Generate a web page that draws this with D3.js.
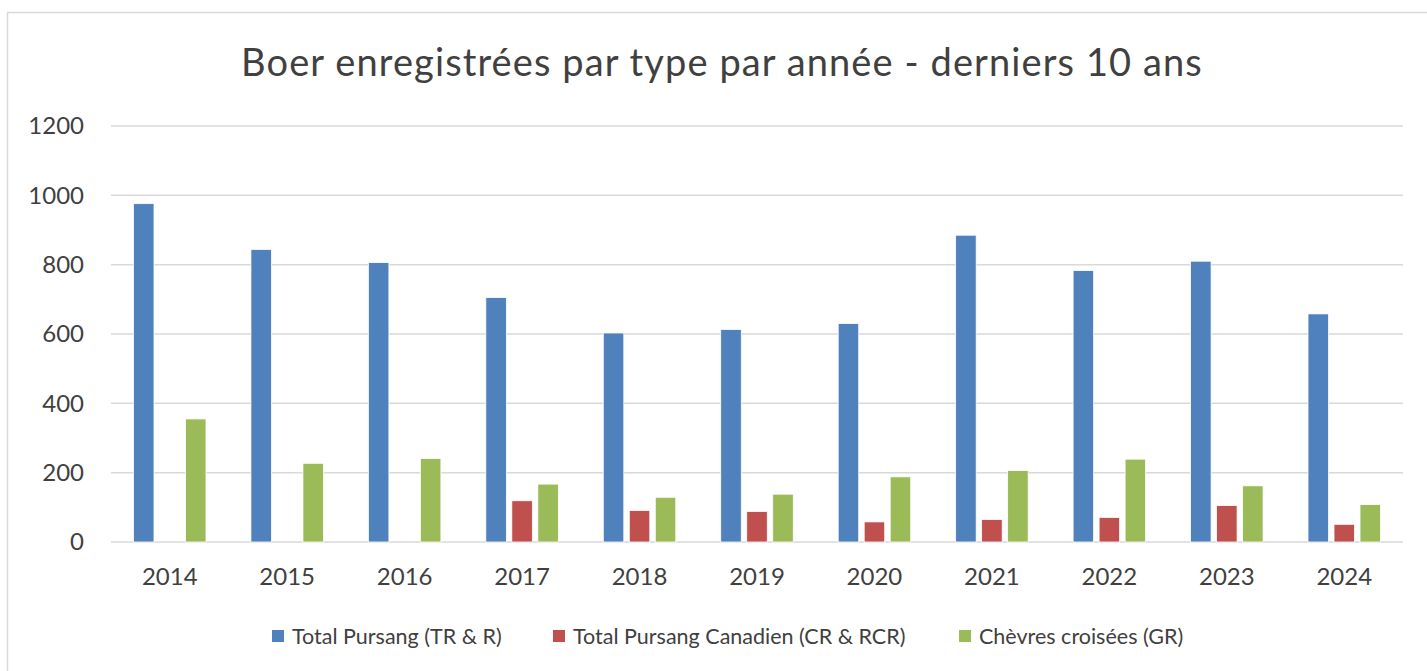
<!DOCTYPE html>
<html>
<head>
<meta charset="utf-8">
<script src="https://cdn.jsdelivr.net/npm/d3@7"></script>
<style>
  body { margin: 0; background: #fff; }
  text { font-family: Lato, "Open Sans", sans-serif; }
</style>
</head>
<body>
<div id="chart"></div>
<script>
// chart data
var years = ["2014", "2015", "2016", "2017", "2018", "2019", "2020", "2021", "2022", "2023", "2024"];
var seriesNames = ["Total Pursang (TR & R)", "Total Pursang Canadien (CR & RCR)", "Chèvres croisées (GR)"];
var pursang = [976, 844, 806, 705, 603, 613, 630, 885, 783, 810, 658];
var canadien = [0, 0, 0, 119, 91, 88, 58, 65, 71, 105, 51];
var croisees = [355, 227, 241, 167, 129, 138, 188, 206, 239, 162, 108];
var yTicks = [0, 200, 400, 600, 800, 1000, 1200];
var colors = ["#4F81BD", "#C0504D", "#9BBB59"];

var W = 1427, H = 671;
var margin = {top: 126, right: 24, bottom: 129, left: 111},
    width = W - margin.left - margin.right,
    height = H - margin.top - margin.bottom;

var svg = d3.select("#chart")
  .append("svg")
    .attr("width", W)
    .attr("height", H);

// outer chart frame
svg.append("rect")
  .attr("x", 7.5)
  .attr("y", 12.5)
  .attr("width", W + 20)
  .attr("height", H + 20)
  .attr("fill", "none")
  .attr("stroke", "#d9d9d9")
  .attr("stroke-width", 1.5);

// title
svg.append("text")
  .attr("x", 722)
  .attr("y", 76)
  .attr("text-anchor", "middle")
  .style("font-size", "38px")
  .style("letter-spacing", "1.1px")
  .style("fill", "#404040")
  .text("Boer enregistrées par type par année - derniers 10 ans");

var g = svg.append("g")
  .attr("transform", "translate(" + margin.left + "," + margin.top + ")");

var rows = years.map(function(y, i) {
  return {year: y, values: [pursang[i], canadien[i], croisees[i]]};
});

// scales
var x0 = d3.scaleBand()
  .domain(years)
  .range([0, width])
  .paddingInner(0.336)
  .paddingOuter(0.168);

var x1 = d3.scaleBand()
  .domain([0, 1, 2])
  .range([0, x0.bandwidth()])
  .paddingInner(0.21)
  .paddingOuter(0.105);

var y = d3.scaleLinear()
  .domain([0, 1200])
  .range([height, 0]);

// gridlines
g.append("g")
  .selectAll("line")
  .data(yTicks)
  .enter()
  .append("line")
    .attr("x1", 0)
    .attr("x2", width)
    .attr("y1", function(d) { return y(d); })
    .attr("y2", function(d) { return y(d); })
    .attr("stroke", "#d9d9d9")
    .attr("stroke-width", 1.5);

// y axis labels
var yAxis = g.append("g")
  .call(d3.axisLeft(y).tickValues(yTicks).tickFormat(d3.format("d")).tickSize(0).tickPadding(27));
yAxis.select(".domain").remove();
yAxis.selectAll("text")
  .style("font-size", "24px")
  .style("font-family", "Lato, sans-serif")
  .style("fill", "#404040");

// x axis labels
var xAxis = g.append("g")
  .attr("transform", "translate(0," + height + ")")
  .call(d3.axisBottom(x0).tickSize(0).tickPadding(26));
xAxis.select(".domain").remove();
xAxis.selectAll("text")
  .style("font-size", "24px")
  .style("font-family", "Lato, sans-serif")
  .style("fill", "#404040");

// bars
var groups = g.selectAll(".grp")
  .data(rows)
  .enter()
  .append("g")
    .attr("class", "grp")
    .attr("transform", function(d) { return "translate(" + x0(d.year) + ",0)"; });

groups.selectAll("rect")
  .data(function(d) { return d.values.map(function(v, k) { return {k: k, v: v}; }); })
  .enter()
  .filter(function(d) { return d.v > 0; })
  .append("rect")
    .attr("x", function(d) { return x1(d.k); })
    .attr("y", function(d) { return y(d.v); })
    .attr("width", x1.bandwidth())
    .attr("height", function(d) { return y(0) - y(d.v); })
    .attr("fill", function(d) { return colors[d.k]; })
    .attr("stroke", "#fff")
    .attr("stroke-width", 0.8);

// legend
var legendX = [272, 553, 959];
var legend = svg.append("g")
  .selectAll("g")
  .data(seriesNames)
  .enter()
  .append("g")
    .attr("transform", function(d, i) { return "translate(" + legendX[i] + ",636)"; });

legend.append("rect")
  .attr("x", 0)
  .attr("y", -6)
  .attr("width", 12)
  .attr("height", 12)
  .attr("fill", function(d, i) { return colors[i]; });

legend.append("text")
  .attr("x", 20)
  .attr("y", 0)
  .attr("dy", "0.35em")
  .style("font-size", "21.5px")
  .style("fill", "#404040")
  .text(function(d) { return d; });
</script>
</body>
</html>
